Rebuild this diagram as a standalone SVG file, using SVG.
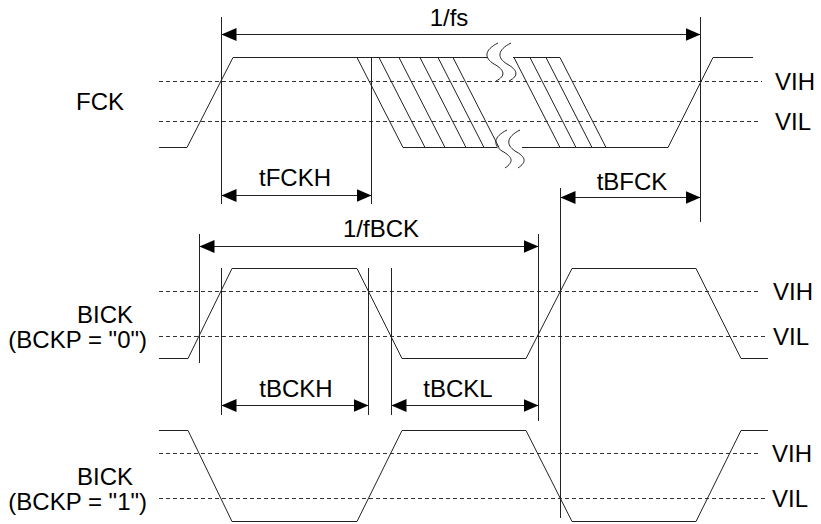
<svg xmlns="http://www.w3.org/2000/svg" width="821" height="524" viewBox="0 0 821 524">
<defs>
<marker id="ah" viewBox="0 0 15 13" refX="15" refY="6.5" markerWidth="15" markerHeight="13" markerUnits="userSpaceOnUse" orient="auto-start-reverse">
<path d="M0,0 L15,6.5 L0,13 z" fill="#000"/>
</marker>
<style>
.sig{fill:none;stroke:#222;stroke-width:1}
.dash{fill:none;stroke:#333;stroke-width:1;stroke-dasharray:4 3}
.vl{fill:none;stroke:#222;stroke-width:1}
.dim{fill:none;stroke:#222;stroke-width:1;marker-start:url(#ah);marker-end:url(#ah)}
text{font-family:"Liberation Sans",Arial,sans-serif;font-size:24px;fill:#000}
.m{text-anchor:middle}
.e{text-anchor:end}
</style>
</defs>
<rect width="821" height="524" fill="#fff"/>

<g id="fck">
<path class="dash" d="M159,81.5 H762 M159,121.5 H760"/>
<path class="sig" d="M159,147.5 H187 L233,57.5 H488 M513,57.5 H560 L606,147.5 H668 L713,57.5 H753"/>
<path class="sig" d="M403,147.5 H497 M522,147.5 H606"/>
<path class="sig" d="M357,57.5 L403,147.5 M379,57.5 L425,147.5 M399,57.5 L445,147.5 M420,57.5 L466,147.5 M438,57.5 L484,147.5 M453,57.5 L499,147.5 M514,57.5 L560,147.5 M530,57.5 L576,147.5 M546,57.5 L592,147.5"/>
<path class="sig" d="M498,43 C484,50 484,58 494,64 C505,70 506,76 496,81 M511,43 C497,50 497,58 507,64 C518,70 519,76 509,81"/>
<path class="sig" d="M507,130 C493,137 493,145 502,151 C513,157 514,162 505,168 M520,130 C506,137 506,145 515,151 C526,157 527,162 518,168"/>
<text class="e" x="124" y="110">FCK</text>
<text x="775" y="90">VIH</text>
<text x="775" y="130">VIL</text>
</g>

<g id="bick0">
<path class="dash" d="M159,291.5 H760 M159,336.5 H768"/>
<path class="sig" d="M159,358.5 H188 L232,268.5 H357 L402,358.5 H526 L572,268.5 H696 L741,358.5 H768"/>
<text class="e" x="133" y="323">BICK</text>
<text class="e" x="147" y="348">(BCKP = "0")</text>
<text x="773" y="300">VIH</text>
<text x="773" y="345">VIL</text>
</g>

<g id="bick1">
<path class="dash" d="M159,453.5 H760 M159,498.5 H768"/>
<path class="sig" d="M159,430.5 H188 L232,521.5 H357 L402,430.5 H526 L572,521.5 H696 L741,430.5 H768"/>
<text class="e" x="133" y="485">BICK</text>
<text class="e" x="147" y="510">(BCKP = "1")</text>
<text x="772" y="462">VIH</text>
<text x="772" y="507">VIL</text>
</g>

<g id="connectors">
<path class="vl" d="M221.5,17 V204 M700.5,17 V222 M371.5,57 V204 M199.5,234 V363 M538.5,234 V421 M221.5,268 V415 M368.5,268 V415 M391.5,268 V415 M560.5,188 V518"/>
<line class="dim" x1="221.5" y1="34.5" x2="700.5" y2="34.5"/>
<line class="dim" x1="221.5" y1="195.5" x2="371.5" y2="195.5"/>
<line class="dim" x1="560.5" y1="197.5" x2="700.5" y2="197.5"/>
<line class="dim" x1="199.5" y1="246.5" x2="538.5" y2="246.5"/>
<line class="dim" x1="221.5" y1="405.5" x2="368.5" y2="405.5"/>
<line class="dim" x1="391.5" y1="405.5" x2="538.5" y2="405.5"/>
<text class="m" x="449" y="26">1/fs</text>
<text class="m" x="295" y="186">tFCKH</text>
<text class="m" x="632" y="190">tBFCK</text>
<text class="m" x="381" y="237">1/fBCK</text>
<text class="m" x="296" y="397">tBCKH</text>
<text class="m" x="458" y="397">tBCKL</text>
</g>
</svg>
